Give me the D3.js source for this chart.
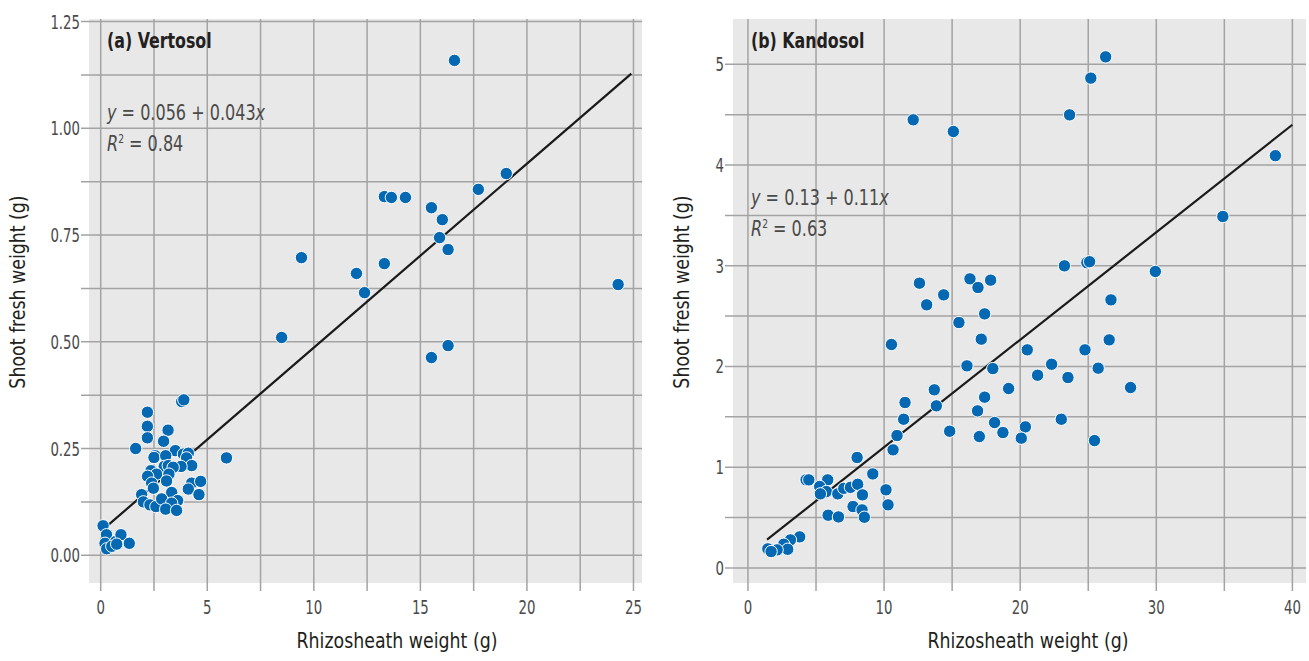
<!DOCTYPE html>
<html lang="en">
<head>
<meta charset="UTF-8">
<title>Rhizosheath vs shoot weight</title>
<script src="https://d3js.org/d3.v7.min.js"></script>
<style>
    body {margin: 0; background: #fff;}
    svg {display: block;}
    text {font-family: "Liberation Sans Narrow", "DejaVu Sans Condensed", "Arial Narrow", sans-serif;}
</style>
</head>
<body>
<svg id="fig" width="1309" height="661"></svg>
<script>
// ---- panel (a) Vertosol: rhizosheath weight (g) vs shoot fresh weight (g)
let vertX = [3.8, 3.9, 2.19, 2.19, 2.19, 3.16, 2.95, 1.64, 3.5, 2.55, 2.5, 3.05, 3.88, 4.11, 4.03, 4.27,
    3.77, 2.98, 3.17, 3.4, 2.36, 2.62, 2.2, 3.2, 3.09, 2.39, 2.47, 4.27, 4.69, 4.11, 4.61, 1.92, 3.33,
    2.0, 2.31, 2.59, 2.86, 3.61, 3.33, 3.05, 3.56, 0.11, 0.27, 0.2, 0.7, 0.95, 1.34, 0.28, 0.52, 0.75,
    5.9, 16.6, 19.03, 17.72, 13.31, 13.64, 14.3, 15.52, 16.03, 15.9, 16.3, 9.42, 12.0, 13.31, 12.38,
    8.49, 15.52, 16.3, 24.28]
let vertY = [0.360, 0.364, 0.335, 0.302, 0.275, 0.293, 0.267, 0.250, 0.245, 0.233, 0.229, 0.233, 0.237,
    0.239, 0.228, 0.210, 0.208, 0.208, 0.210, 0.206, 0.198, 0.190, 0.185, 0.190, 0.174, 0.169, 0.157,
    0.169, 0.173, 0.155, 0.142, 0.142, 0.147, 0.125, 0.118, 0.114, 0.132, 0.128, 0.122, 0.108, 0.105,
    0.069, 0.048, 0.028, 0.032, 0.048, 0.028, 0.015, 0.021, 0.026,
    0.228, 1.159, 0.894, 0.857, 0.840, 0.838, 0.838, 0.814, 0.786, 0.744, 0.716, 0.697, 0.660, 0.683,
    0.615, 0.510, 0.463, 0.491, 0.634]
let vertFitX = [0.1, 24.9]
let vertFitY = [0.06, 1.128]

// ---- panel (b) Kandosol
let kandX = [10.66, 8.02, 9.17, 4.27, 4.47, 5.86, 5.27, 5.76, 5.32, 6.6, 7.04, 7.53, 8.06, 8.41, 10.14,
    10.29, 7.72, 8.38, 8.55, 5.89, 6.65, 3.8, 3.12, 2.63, 2.92, 2.14, 1.46, 1.7,
    23.25, 24.9, 25.1, 12.6, 16.31, 16.9, 17.83, 14.38, 13.13, 26.67, 17.39, 15.5, 17.14, 10.54, 26.54,
    20.52, 24.76, 22.31, 16.09, 17.99, 25.73, 21.28, 23.51, 28.11, 19.15, 13.69, 17.39, 11.54, 13.84,
    16.87, 11.44, 23.02, 20.38, 18.12, 14.82, 18.73, 17.0, 20.08, 25.46, 10.95,
    26.28, 25.19, 23.63, 12.14, 15.09, 38.75, 34.89, 29.93]
let kandY = [1.172, 1.096, 0.933, 0.874, 0.874, 0.874, 0.808, 0.758, 0.735, 0.735, 0.790, 0.800, 0.830,
    0.725, 0.775, 0.626, 0.609, 0.576, 0.503, 0.523, 0.506, 0.308, 0.278, 0.235, 0.185, 0.179, 0.189, 0.162,
    2.999, 3.03, 3.04, 2.827, 2.870, 2.784, 2.857, 2.711, 2.612, 2.661, 2.522, 2.436, 2.271, 2.218, 2.264,
    2.165, 2.165, 2.022, 2.006, 1.979, 1.983, 1.913, 1.890, 1.791, 1.781, 1.768, 1.695, 1.642, 1.609,
    1.559, 1.476, 1.476, 1.400, 1.443, 1.357, 1.344, 1.304, 1.288, 1.264, 1.314,
    5.074, 4.863, 4.498, 4.449, 4.333, 4.093, 3.489, 2.943]
let kandFitX = [1.4, 40]
let kandFitY = [0.28, 4.40]

let svg = d3.select("#fig")
let plotTop = 19, plotBottom = 583

// condensed look: squeeze text horizontally around its anchor
function at(x, y, sx) {
    return `translate(${x},${y}) scale(${sx},1)`
}

function panel(opt) {
    let x = d3.scaleLinear().domain(opt.xDomain).range([opt.left, opt.right])
    let y = d3.scaleLinear().domain(opt.yDomain).range([plotBottom, plotTop])
    let g = svg.append("g")

    g.append("rect")
        .attr("x", opt.left).attr("y", plotTop)
        .attr("width", opt.right - opt.left).attr("height", plotBottom - plotTop)
        .attr("fill", "#e8e8e8")

    // grid + outward ticks
    g.selectAll(".vg").data(opt.xGrid).join("line")
        .attr("x1", d => x(d)).attr("x2", d => x(d))
        .attr("y1", plotTop).attr("y2", plotBottom + 8)
        .attr("stroke", "#a3a3a3").attr("stroke-width", 1.5)
    g.selectAll(".hg").data(opt.yGrid).join("line")
        .attr("x1", opt.left - 8).attr("x2", opt.right)
        .attr("y1", d => y(d)).attr("y2", d => y(d))
        .attr("stroke", "#a3a3a3").attr("stroke-width", 1.5)

    // tick labels
    g.selectAll(".xl").data(opt.xLabels).join("text")
        .attr("transform", d => at(x(d), plotBottom + 31, 0.74))
        .attr("text-anchor", "middle")
        .attr("font-size", 20).attr("fill", "#4a4a4a")
        .text(d => d)
    g.selectAll(".yl").data(opt.yLabels).join("text")
        .attr("transform", d => at(opt.left - 9, y(d) + 7, 0.74))
        .attr("text-anchor", "end")
        .attr("font-size", 20).attr("fill", "#4a4a4a")
        .text(d => opt.yFormat(d))

    // axis titles
    g.append("text")
        .attr("transform", at(opt.xTitleX, 648, 0.92))
        .attr("text-anchor", "middle").attr("font-size", 21).attr("fill", "#231f20")
        .text("Rhizosheath weight (g)")
    g.append("text")
        .attr("transform", `translate(${opt.yTitleX},${(plotTop + plotBottom) / 2 - 9}) rotate(-90) scale(0.92,1)`)
        .attr("text-anchor", "middle").attr("font-size", 21).attr("fill", "#231f20")
        .text("Shoot fresh weight (g)")

    // regression line
    let fit = d3.zip(opt.fitX, opt.fitY)
    g.append("path")
        .attr("d", d3.line().x(d => x(d[0])).y(d => y(d[1]))(fit))
        .attr("stroke", "#1a1a1a").attr("stroke-width", 2.2).attr("fill", "none")

    // points
    let pts = d3.zip(opt.px, opt.py)
    g.selectAll("circle").data(pts).join("circle")
        .attr("cx", d => x(d[0])).attr("cy", d => y(d[1]))
        .attr("r", 6.2)
        .attr("fill", "#0568b3").attr("stroke", "#fff").attr("stroke-width", 1)

    // panel label
    g.append("text")
        .attr("transform", at(opt.left + 18, 48, 0.8))
        .attr("font-size", 22).attr("font-weight", "bold").attr("fill", "#231f20")
        .text(opt.label)

    // equation
    let eq = g.append("text")
        .attr("transform", at(opt.left + 18, opt.eqY, 0.85))
        .attr("font-size", 21).attr("fill", "#4a4a4a")
    eq.append("tspan").attr("font-style", "italic").text("y")
    eq.append("tspan").text(" = " + opt.eq[0] + " + " + opt.eq[1])
    eq.append("tspan").attr("font-style", "italic").text("x")
    let r2 = g.append("text")
        .attr("transform", at(opt.left + 18, opt.eqY + 31, 0.85))
        .attr("font-size", 21).attr("fill", "#4a4a4a")
    r2.append("tspan").attr("font-style", "italic").text("R")
    r2.append("tspan").attr("font-size", 12).attr("dy", -8).text("2")
    r2.append("tspan").attr("dy", 8).text(" = " + opt.r2)
}

panel({
    left: 89, right: 642,
    xDomain: [-0.55, 25.4], yDomain: [-0.065, 1.256],
    xGrid: d3.range(0, 25.01, 2.5), yGrid: d3.range(0, 1.26, 0.125),
    xLabels: [0, 5, 10, 15, 20, 25], yLabels: [0, 0.25, 0.5, 0.75, 1, 1.25],
    yFormat: d3.format(".2f"),
    xTitleX: 397, yTitleX: 25,
    px: vertX, py: vertY, fitX: vertFitX, fitY: vertFitY,
    label: "(a) Vertosol", eqY: 120, eq: ["0.056", "0.043"], r2: "0.84"
})

panel({
    left: 733, right: 1306,
    xDomain: [-1.1, 41.0], yDomain: [-0.15, 5.45],
    xGrid: d3.range(0, 40.01, 5), yGrid: d3.range(0, 5.01, 0.5),
    xLabels: [0, 10, 20, 30, 40], yLabels: [0, 1, 2, 3, 4, 5],
    yFormat: d3.format("d"),
    xTitleX: 1028, yTitleX: 689,
    px: kandX, py: kandY, fitX: kandFitX, fitY: kandFitY,
    label: "(b) Kandosol", eqY: 205, eq: ["0.13", "0.11"], r2: "0.63"
})
</script>
</body>
</html>
